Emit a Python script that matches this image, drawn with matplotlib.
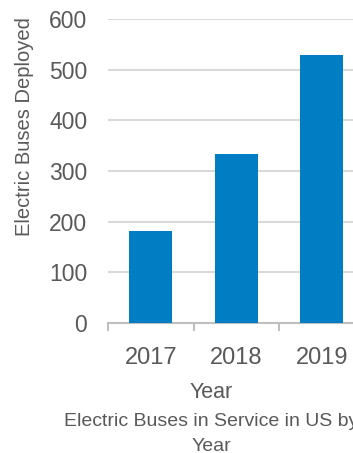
import matplotlib
matplotlib.use('Agg')
import matplotlib.pyplot as plt

# data
years = ['2017', '2018', '2019']
buses = [182, 334, 529]
yticks = [0, 100, 200, 300, 400, 500, 600]

grey = '#595959'
plt.rcParams['font.family'] = ['Liberation Sans', 'DejaVu Sans']

fig = plt.figure(figsize=(3.53, 4.53), dpi=100)
# axes runs off the right edge, the original is cropped
ax = fig.add_axes([108 / 353, 130 / 453, 256.5 / 353, 304 / 453])

x = range(len(years))
ax.bar(x, buses, width=0.5, color='#007DC3', zorder=3)

ax.set_xlim(-0.5, 2.5)
ax.set_ylim(0, 600)
ax.set_yticks(yticks)
ax.set_yticklabels([str(v) for v in yticks])
ax.set_xticks(list(x))
ax.set_xticklabels(years)
ax.grid(axis='y', color='#D9D9D9', lw=1.5, zorder=0)

for s in ['top', 'right', 'left']:
    ax.spines[s].set_visible(False)
ax.spines['bottom'].set_color('#BFBFBF')
ax.spines['bottom'].set_linewidth(1.5)

# category boundary ticks
ax.set_xticks([-0.5, 0.5, 1.5, 2.5], minor=True)
ax.tick_params(axis='x', which='minor', length=6, width=1.5, color='#BFBFBF')
ax.tick_params(axis='x', which='major', length=0, pad=17, labelsize=17, labelcolor=grey)
ax.tick_params(axis='y', length=0, pad=15, labelsize=16.5, labelcolor=grey)

fig.text(25 / 353, 1 - 127 / 453, 'Electric Buses Deployed', rotation=90,
         ha='center', va='center', fontsize=14.5, color=grey)
fig.text(211 / 353, 1 - 393 / 453, 'Year', ha='center', va='center',
         fontsize=15.5, color=grey)
fig.text(211 / 353, 1 - 434 / 453, 'Electric Buses in Service in US by\nYear',
         ha='center', va='center', fontsize=14, color=grey, linespacing=1.55)

fig.savefig('out.png', dpi=100)
